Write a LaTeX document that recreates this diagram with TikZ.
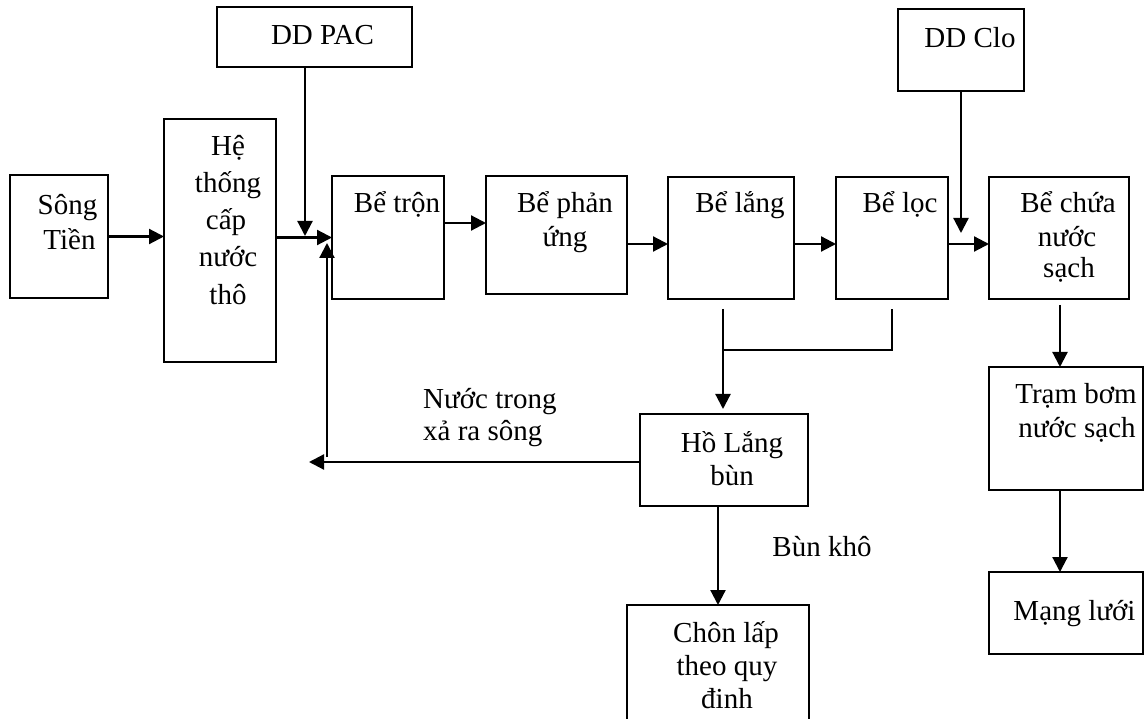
\documentclass[tikz,border=0pt]{standalone}
\usepackage{fontspec}
\setmainfont{Liberation Serif}
\usetikzlibrary{arrows.meta}
\begin{document}
\begin{tikzpicture}[x=1pt,y=-1pt,
  bx/.style={draw, line width=1.5pt, inner sep=0pt, outer sep=0pt},
  lbl/.style={inner sep=0pt, anchor=base, font=\fontsize{29}{36}\selectfont},
  lbll/.style={inner sep=0pt, anchor=base west, font=\fontsize{29}{36}\selectfont},
  arr/.style={line width=2.2pt, -{Triangle[length=15pt,width=15pt]}},
  ln/.style={line width=1.6pt}]
\useasboundingbox (0,0) rectangle (1144,719);
\clip (0,0) rectangle (1144,719);
% boxes
\node[bx, minimum width=98pt,  minimum height=123pt] (song) at (59,236.5) {};
\node[bx, minimum width=112pt, minimum height=243pt] (he)   at (220,240.5) {};
\node[bx, minimum width=195pt, minimum height=60pt]  (pac)  at (314.5,37) {};
\node[bx, minimum width=112pt, minimum height=123pt] (tron) at (388,237.5) {};
\node[bx, minimum width=141pt, minimum height=118pt] (phan) at (556.5,235) {};
\node[bx, minimum width=126pt, minimum height=122pt] (lang) at (731,238) {};
\node[bx, minimum width=112pt, minimum height=122pt] (loc)  at (892,238) {};
\node[bx, minimum width=140pt, minimum height=122pt] (chua) at (1059,238) {};
\node[bx, minimum width=126pt, minimum height=82pt]  (clo)  at (961,50) {};
\node[bx, minimum width=168pt, minimum height=92pt]  (ho)   at (724,460) {};
\node[bx, minimum width=182pt, minimum height=135pt] (chon) at (718,672.5) {};
\node[bx, minimum width=154pt, minimum height=123pt] (tram) at (1066,428.5) {};
\node[bx, minimum width=154pt, minimum height=82pt]  (mang) at (1066,613) {};
% texts
\node[lbl] (tpac) at (322.5,45) {DD PAC};
\node[lbl] (tclo) at (970,48) {DD Clo};
\node[lbl] (ts1) at (67.5,215) {Sông};
\node[lbl] (ts2) at (69.5,250) {Tiền};
\node[lbl] (th1) at (228,156) {Hệ};
\node[lbl] (th2) at (228,193) {thống};
\node[lbl] (th3) at (226,230) {cấp};
\node[lbl] (th4) at (228,267) {nước};
\node[lbl] (th5) at (228,305) {thô};
\node[lbl] (ttr) at (397,213) {Bể trộn};
\node[lbl] (tp1) at (565,213) {Bể phản};
\node[lbl] (tp2) at (565,247) {ứng};
\node[lbl] (tla) at (740,213) {Bể lắng};
\node[lbl] (tlo) at (900,213) {Bể lọc};
\node[lbl] (tc1) at (1068,213) {Bể chứa};
\node[lbl] (tc2) at (1067,247) {nước};
\node[lbl] (tc3) at (1069,278) {sạch};
\node[lbll] (tn1) at (423,409) {Nước trong};
\node[lbll] (tn2) at (423,440) {xả ra sông};
\node[lbl] (tho1) at (732,453) {Hồ Lắng};
\node[lbl] (tho2) at (732,485) {bùn};
\node[lbl] (tbk) at (822,556) {Bùn khô};
\node[lbl] (tch1) at (726,642) {Chôn lấp};
\node[lbl] (tch2) at (727,675) {theo quy};
\node[lbl] (tch3) at (727,708) {đinh};
\node[lbl] (ttb1) at (1076,403) {Trạm bơm};
\node[lbl] (ttb2) at (1077,438) {nước sạch};
\node[lbl] (tml) at (1074.5,620) {Mạng lưới};
% helper coordinates
\coordinate (pacin) at (305,236);
\coordinate (r1) at (0,223);
\coordinate (r2) at (0,244);
\coordinate (cloin) at (0,233);
\coordinate (b1) at (723,309);
\coordinate (b2) at (723,350);
\coordinate (b3) at (892,350);
\coordinate (b4) at (892,309);
\coordinate (ret) at (309,462);
\coordinate (rbot) at (327,457);
\coordinate (rtip) at (327,243);
\coordinate (ct) at (1060,305);
% connectors
\draw[arr] (song.east) -- (he.west |- song.east);
\draw[arr] (he.east |- tron.west) -- (tron.west);
\draw[arr] (pac.south -| pacin) -- (pacin);
\draw[arr] (tron.east |- r1) -- (phan.west |- r1);
\draw[arr] (phan.east |- r2) -- (lang.west |- r2);
\draw[arr] (lang.east |- r2) -- (loc.west |- r2);
\draw[arr] (loc.east |- r2) -- (chua.west |- r2);
\draw[arr] (clo.south) -- (clo.south |- cloin);
\draw[ln] (b1) -- (b2) -- (b3) -- (b4);
\draw[arr, shorten >=5pt] (b2) -- (ho.north -| b2);
\draw[arr] (ho.west |- ret) -- (ret);
\draw[arr] (rbot) -- (rtip);
\draw[arr] (ho.south -| chon.north) -- (chon.north);
\draw[arr] (ct) -- (tram.north -| ct);
\draw[arr] (tram.south -| ct) -- (mang.north -| ct);
\end{tikzpicture}
\end{document}
